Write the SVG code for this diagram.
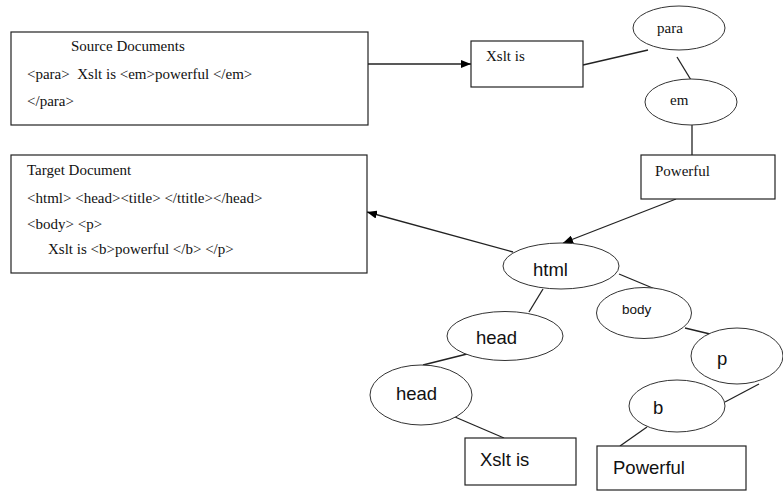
<svg xmlns="http://www.w3.org/2000/svg" width="783" height="492" viewBox="0 0 783 492">
<defs>
<marker id="arr" viewBox="0 0 10 8" refX="10" refY="4" markerWidth="10" markerHeight="8" markerUnits="userSpaceOnUse" orient="auto">
<path d="M0,0 L10,4 L0,8 Z" fill="#000"/>
</marker>
</defs>
<style>
.box{fill:#fff;stroke:#222;stroke-width:1.2}
.ell{fill:#fff;stroke:#333;stroke-width:1}
.ser{font-family:"Liberation Serif","Times New Roman",serif;font-size:15px;fill:#111}
.san{font-family:"Liberation Sans",Arial,sans-serif;font-size:18.5px;fill:#111}
.sm{font-size:13.5px}
.ln{stroke:#222;stroke-width:1.3;fill:none}
</style>
<rect width="783" height="492" fill="#fff"/>
<g id="connectors">
<line class="ln" x1="368" y1="64" x2="471" y2="64" marker-end="url(#arr)"/>
<line class="ln" x1="583" y1="65" x2="648" y2="50"/>
<line class="ln" x1="677" y1="57" x2="691" y2="80"/>
<line class="ln" x1="692" y1="125" x2="692" y2="155"/>
<line class="ln" x1="676" y1="199" x2="563" y2="243" marker-end="url(#arr)"/>
<line class="ln" x1="513" y1="252" x2="367" y2="212" marker-end="url(#arr)"/>
<line class="ln" x1="543" y1="289" x2="529" y2="312"/>
<line class="ln" x1="471" y1="353" x2="423" y2="365"/>
<line class="ln" x1="455" y1="417" x2="504" y2="438"/>
<line class="ln" x1="619" y1="274" x2="655" y2="289"/>
<line class="ln" x1="685" y1="328" x2="710" y2="334"/>
<line class="ln" x1="759" y1="384" x2="725" y2="402"/>
<line class="ln" x1="647" y1="427" x2="620" y2="446"/>
</g>
<g id="source">
<rect class="box" x="11" y="32" width="357" height="93"/>
<text class="ser" x="71" y="51">Source Documents</text>
<text class="ser" x="27" y="79">&lt;para&gt;&#160; Xslt is &lt;em&gt;powerful &lt;/em&gt;</text>
<text class="ser" x="27" y="106">&lt;/para&gt;</text>
</g>
<g id="target">
<rect class="box" x="11" y="155" width="356" height="118"/>
<text class="ser" x="27" y="175">Target Document</text>
<text class="ser" x="27" y="203">&lt;html&gt; &lt;head&gt;&lt;title&gt; &lt;/ttitle&gt;&lt;/head&gt;</text>
<text class="ser" x="27" y="229">&lt;body&gt; &lt;p&gt;</text>
<text class="ser" x="48" y="254">Xslt is &lt;b&gt;powerful &lt;/b&gt; &lt;/p&gt;</text>
</g>
<g id="xslt1">
<rect class="box" x="471" y="41" width="112" height="46"/>
<text class="ser" x="486" y="61">Xslt is</text>
</g>
<g id="para">
<ellipse class="ell" cx="679" cy="28" rx="46" ry="22"/>
<text class="ser" x="657" y="33">para</text>
</g>
<g id="em">
<ellipse class="ell" cx="691" cy="102" rx="46" ry="23"/>
<text class="ser" x="670" y="105">em</text>
</g>
<g id="powerful1">
<rect class="box" x="641" y="155" width="134" height="44"/>
<text class="ser" x="655" y="176">Powerful</text>
</g>
<g id="html">
<ellipse class="ell" cx="561" cy="266" rx="58" ry="23"/>
<text class="san" x="533" y="276">html</text>
</g>
<g id="head1">
<ellipse class="ell" cx="505" cy="336" rx="58" ry="24.5"/>
<text class="san" x="476" y="344">head</text>
</g>
<g id="head2">
<ellipse class="ell" cx="421" cy="395" rx="51" ry="30"/>
<text class="san" x="396" y="400">head</text>
</g>
<g id="xslt2">
<rect class="box" x="465" y="438" width="111" height="47"/>
<text class="san" x="480" y="466">Xslt is</text>
</g>
<g id="body">
<ellipse class="ell" cx="644" cy="313" rx="47.5" ry="25.5"/>
<text class="san sm" x="622" y="314">body</text>
</g>
<g id="p">
<ellipse class="ell" cx="737" cy="356" rx="46" ry="28"/>
<text class="san" x="717" y="365">p</text>
</g>
<g id="b">
<ellipse class="ell" cx="677" cy="406" rx="48" ry="26"/>
<text class="san" x="653" y="414">b</text>
</g>
<g id="powerful2">
<rect class="box" x="597" y="446" width="149" height="44"/>
<text class="san" x="613" y="474">Powerful</text>
</g>
</svg>
